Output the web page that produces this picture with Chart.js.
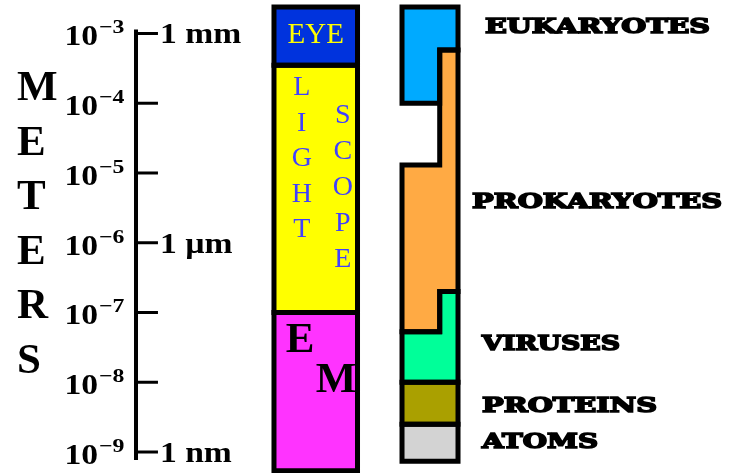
<!DOCTYPE html>
<html><head><meta charset="utf-8">
<script src="https://cdn.jsdelivr.net/npm/chart.js@4.4.0/dist/chart.umd.min.js"></script>
<style>html,body{margin:0;padding:0;background:#fff}#wrap{width:732px;height:473px;position:relative}</style>
</head><body><div id="wrap"><canvas id="c"></canvas></div>
<script>
// ---------- data (sizes in meters) ----------
const tickExponents = [-3, -4, -5, -6, -7, -8, -9];
const unitLabels = { '-3': '1 mm', '-6': '1 µm', '-9': '1 nm' };
const axisTitle = 'METERS';

const scopeNames = ['EYE', 'LIGHT SCOPE', 'EM'];
const scopeLow  = [3.5e-4, 1e-7, 5.4e-10];
const scopeHigh = [2.4e-3, 3.5e-4, 1e-7];

const lifeNames = ['EUKARYOTES', 'PROKARYOTES', 'VIRUSES', 'PROTEINS', 'ATOMS'];
// inner (left) half of the column
const lifeLowA  = [1e-4,   5.3e-8, 1e-8,   2.5e-9, 7.4e-10];
const lifeHighA = [2.4e-3, 1.3e-5, 5.3e-8, 1e-8,   2.5e-9];
// outer (right) half of the column
const lifeLowB  = [5.8e-4, 2e-7,   1e-8,   2.5e-9, 7.4e-10];
const lifeHighB = [2.4e-3, 5.8e-4, 2e-7,   1e-8,   2.5e-9];

// ---------- style / layout ----------
const scopeColors = ['#0033dd', '#ffff00', '#ff33ff'];
const lifeColors  = ['#00aaff', '#ffaa44', '#00ff99', '#aaa000', '#d3d3d3'];
const AXIS_X = 1.858, TICK_END = 2.158;
const SCOPE_X = [3.743, 4.884];
const LIFE_X = [5.492, 6.007, 6.257];
const SERIF = '"Liberation Serif"';
const SLAB = '"DejaVu Serif"';

function shape(xL, xS, xR, loA, hiA, loB, hiB) {
  const mid = Math.sqrt(loA * hiA);
  const raw = [[xL, mid], [xL, hiA], [xS, hiA], [xS, hiB], [xR, hiB], [xR, loB], [xS, loB], [xS, loA], [xL, loA], [xL, mid]];
  const pts = [];
  raw.forEach(p => {
    const l = pts[pts.length - 1];
    if (!l || l.x !== p[0] || l.y !== p[1]) pts.push({ x: p[0], y: p[1] });
  });
  return pts;
}
function polyDataset(pts, color) {
  return {
    data: pts, showLine: true, fill: 'shape', backgroundColor: color,
    borderColor: '#000', borderWidth: 5, borderJoinStyle: 'miter', borderCapStyle: 'butt',
    pointRadius: 0, pointHoverRadius: 0, tension: 0, clip: false
  };
}
const datasets = [];
scopeNames.forEach((n, i) => {
  datasets.push(polyDataset(shape(SCOPE_X[0], SCOPE_X[1], SCOPE_X[1], scopeLow[i], scopeHigh[i], scopeLow[i], scopeHigh[i]), scopeColors[i]));
});
lifeNames.forEach((n, i) => {
  datasets.push(polyDataset(shape(LIFE_X[0], LIFE_X[1], LIFE_X[2], lifeLowA[i], lifeHighA[i], lifeLowB[i], lifeHighB[i]), lifeColors[i]));
});

function txt(ctx, s, x, y, font, color, align, sx, stroke) {
  ctx.save();
  ctx.font = font; ctx.fillStyle = color; ctx.textBaseline = 'alphabetic';
  const w = ctx.measureText(s).width * (sx || 1);
  let left = x;
  if (align === 'right') left = x - w; else if (align === 'center') left = x - w / 2;
  ctx.translate(left, y);
  ctx.scale(sx || 1, 1);
  ctx.textAlign = 'left';
  ctx.fillText(s, 0, 0);
  if (stroke) { ctx.strokeStyle = color; ctx.lineWidth = stroke; ctx.lineJoin = 'miter'; ctx.strokeText(s, 0, 0); }
  ctx.restore();
}
function txtW(ctx, s, x, y, font, color, width, stroke) {
  ctx.save();
  ctx.font = font;
  const sx = width / ctx.measureText(s).width;
  ctx.restore();
  txt(ctx, s, x, y, font, color, 'left', sx, stroke);
}

const decor = {
  id: 'decor',
  afterDatasetsDraw(chart) {
    const ctx = chart.ctx, xs = chart.scales.x, ys = chart.scales.y;
    const ax = xs.getPixelForValue(AXIS_X), te = xs.getPixelForValue(TICK_END);
    const yTop = ys.getPixelForValue(1e-3), yBot = ys.getPixelForValue(1e-9);
    ctx.save();
    ctx.strokeStyle = '#000';
    ctx.lineWidth = 4;
    ctx.beginPath(); ctx.moveTo(ax, yTop - 4); ctx.lineTo(ax, yBot + 8); ctx.stroke();
    ctx.lineWidth = 3;
    tickExponents.forEach(e => {
      const y = ys.getPixelForValue(Math.pow(10, e));
      ctx.beginPath(); ctx.moveTo(ax, y); ctx.lineTo(te, y); ctx.stroke();
      txt(ctx, '10', 98, y + 12, 'bold 30px ' + SERIF, '#000', 'right', 1.12);
      txt(ctx, '\u2212' + Math.abs(e), 99, y, 'bold 19px ' + SERIF, '#000', 'left', 1.25);
      if (unitLabels[String(e)]) txt(ctx, unitLabels[String(e)], te + 2, y + 10, 'bold 30px ' + SERIF, '#000', 'left', 1.12);
    });
    ctx.restore();
    // axis title
    axisTitle.split('').forEach((c, i) => txt(ctx, c, 17, 100 + i * 54.6, 'bold 43px ' + SERIF, '#000', 'left', 1));
    // scope labels
    const cx = (xs.getPixelForValue(SCOPE_X[0]) + xs.getPixelForValue(SCOPE_X[1])) / 2;
    txt(ctx, scopeNames[0], cx, 43, '29px ' + SERIF, '#ffff00', 'center', 1);
    const parts = scopeNames[1].split(' ');
    parts[0].split('').forEach((c, i) => txt(ctx, c, cx - 14, 95 + i * 35.5, '28px ' + SERIF, '#4040ff', 'center', 1));
    parts[1].split('').forEach((c, i) => txt(ctx, c, cx + 27, 123 + i * 36, '28px ' + SERIF, '#4040ff', 'center', 1));
    txt(ctx, scopeNames[2][0], cx - 30, 352, 'bold 43px ' + SERIF, '#000', 'left', 1);
    txt(ctx, scopeNames[2][1], cx, 392, 'bold 43px ' + SERIF, '#000', 'left', 1);
    // organism labels
    const lx = [485, 472, 482, 482, 482];
    const lb = [33, 208, 350, 412, 448];
    const lw = [225, 250, 138, 175, 116];
    lifeNames.forEach((n, i) => txtW(ctx, n, lx[i], lb[i], 'bold 21px ' + SLAB, '#000', lw[i], 1.6));
  }
};

function build() {
  new Chart(document.getElementById('c'), {
    type: 'scatter',
    data: { datasets },
    options: {
      responsive: true, maintainAspectRatio: false, animation: false, events: [],
      layout: { padding: 0 },
      plugins: { legend: { display: false }, tooltip: { enabled: false }, filler: { drawTime: 'beforeDatasetsDraw' } },
      scales: {
        x: { type: 'linear', display: false, min: 0, max: 10, bounds: 'data' },
        y: { type: 'logarithmic', display: false, min: Math.pow(10, -9.301), max: Math.pow(10, -2.52), bounds: 'data' }
      }
    },
    plugins: [decor]
  });
}
Promise.all([
  document.fonts.load('bold 30px "Liberation Serif"'),
  document.fonts.load('30px "Liberation Serif"'),
  document.fonts.load('bold 21px "DejaVu Serif"')
]).then(build, build);
</script></body></html>
